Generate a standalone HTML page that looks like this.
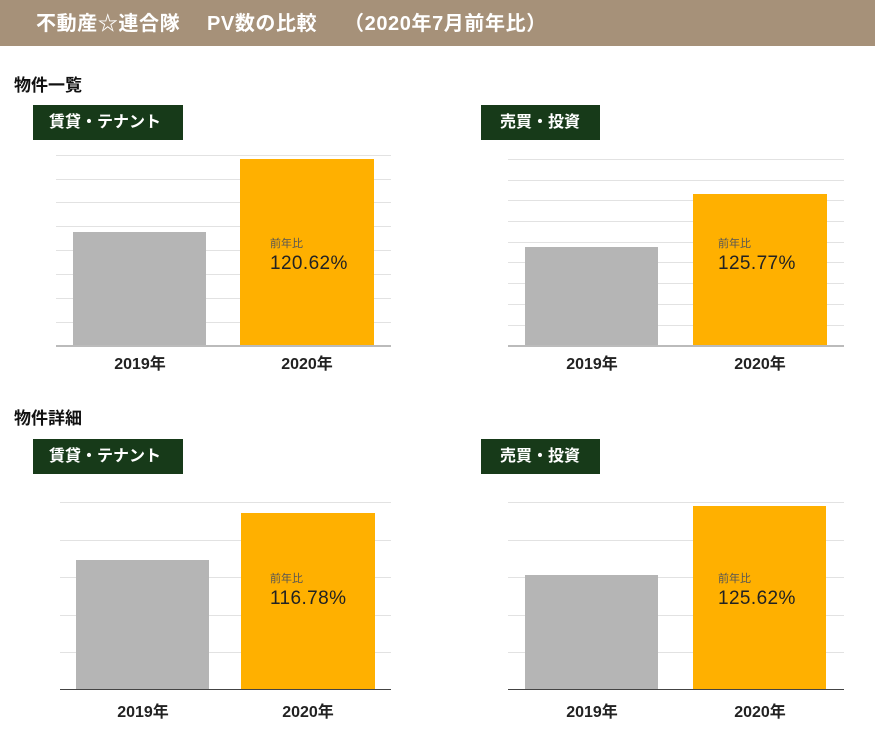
<!DOCTYPE html>
<html><head><meta charset="utf-8"><style>
body{margin:0;width:875px;height:731px;background:#fff;position:relative;overflow:hidden;font-family:"Liberation Sans","Noto Sans CJK JP",sans-serif}
.a{position:absolute}
.hdr{left:0;top:0;width:875px;height:46px;background:#a69179;color:#fff;font-weight:bold;font-size:20px;line-height:48px;padding-left:36px;box-sizing:border-box;white-space:pre;letter-spacing:0.6px}
.sec{font-weight:bold;font-size:17px;color:#111}
.tag{background:#173a19;color:#fff;font-weight:bold;font-size:16px;line-height:35px;height:35px;padding-left:16px;box-sizing:border-box}
.g{height:1px;background:#e2e2e2}
.b{height:1px;background:#444}
.gray{background:#b5b5b5}
.or{background:#ffb000}
.sm{font-size:11px;color:#555}
.val{font-size:19px;color:#222;letter-spacing:0.4px}
.xl{font-weight:bold;font-size:16px;color:#222;text-align:center;width:134px}
</style></head><body>
<div class="a hdr">不動産☆連合隊　 PV数の比較　 （2020年7月前年比）</div>
<div class="a sec" style="left:14px;top:71px">物件一覧</div>
<div class="a sec" style="left:14px;top:404px">物件詳細</div>
<div class="a tag" style="left:33px;top:105px;width:150px">賃貸・テナント</div>
<div class="a tag" style="left:481px;top:105px;width:119px;padding-left:19px">売買・投資</div>
<div class="a tag" style="left:33px;top:439px;width:150px">賃貸・テナント</div>
<div class="a tag" style="left:481px;top:439px;width:119px;padding-left:19px">売買・投資</div>

<!-- chart 1 -->
<div class="a g" style="left:56px;width:335px;top:155px"></div>
<div class="a g" style="left:56px;width:335px;top:179px"></div>
<div class="a g" style="left:56px;width:335px;top:202px"></div>
<div class="a g" style="left:56px;width:335px;top:226px"></div>
<div class="a g" style="left:56px;width:335px;top:250px"></div>
<div class="a g" style="left:56px;width:335px;top:274px"></div>
<div class="a g" style="left:56px;width:335px;top:298px"></div>
<div class="a g" style="left:56px;width:335px;top:322px"></div>
<div class="a gray" style="left:73px;width:133px;top:232px;height:114px"></div>
<div class="a or" style="left:240px;width:134px;top:159px;height:187px"></div>
<div class="a b" style="left:56px;width:335px;top:345px;background:#bbb;height:2px"></div>
<div class="a sm" style="left:270px;top:235px">前年比</div>
<div class="a val" style="left:270px;top:253px">120.62%</div>
<div class="a xl" style="left:73px;top:350px">2019年</div>
<div class="a xl" style="left:240px;top:350px">2020年</div>

<!-- chart 2 -->
<div class="a g" style="left:508px;width:336px;top:159px"></div>
<div class="a g" style="left:508px;width:336px;top:180px"></div>
<div class="a g" style="left:508px;width:336px;top:200px"></div>
<div class="a g" style="left:508px;width:336px;top:221px"></div>
<div class="a g" style="left:508px;width:336px;top:242px"></div>
<div class="a g" style="left:508px;width:336px;top:262px"></div>
<div class="a g" style="left:508px;width:336px;top:283px"></div>
<div class="a g" style="left:508px;width:336px;top:304px"></div>
<div class="a g" style="left:508px;width:336px;top:325px"></div>
<div class="a gray" style="left:525px;width:133px;top:247px;height:99px"></div>
<div class="a or" style="left:693px;width:134px;top:194px;height:152px"></div>
<div class="a b" style="left:508px;width:336px;top:345px;background:#bbb;height:2px"></div>
<div class="a sm" style="left:718px;top:235px">前年比</div>
<div class="a val" style="left:718px;top:253px">125.77%</div>
<div class="a xl" style="left:525px;top:350px">2019年</div>
<div class="a xl" style="left:693px;top:350px">2020年</div>

<!-- chart 3 -->
<div class="a g" style="left:60px;width:331px;top:502px"></div>
<div class="a g" style="left:60px;width:331px;top:540px"></div>
<div class="a g" style="left:60px;width:331px;top:577px"></div>
<div class="a g" style="left:60px;width:331px;top:615px"></div>
<div class="a g" style="left:60px;width:331px;top:652px"></div>
<div class="a gray" style="left:76px;width:133px;top:560px;height:129px"></div>
<div class="a or" style="left:241px;width:134px;top:513px;height:176px"></div>
<div class="a b" style="left:60px;width:331px;top:689px"></div>
<div class="a sm" style="left:270px;top:570px">前年比</div>
<div class="a val" style="left:270px;top:588px">116.78%</div>
<div class="a xl" style="left:76px;top:698px">2019年</div>
<div class="a xl" style="left:241px;top:698px">2020年</div>

<!-- chart 4 -->
<div class="a g" style="left:508px;width:336px;top:502px"></div>
<div class="a g" style="left:508px;width:336px;top:540px"></div>
<div class="a g" style="left:508px;width:336px;top:577px"></div>
<div class="a g" style="left:508px;width:336px;top:615px"></div>
<div class="a g" style="left:508px;width:336px;top:652px"></div>
<div class="a gray" style="left:525px;width:133px;top:575px;height:114px"></div>
<div class="a or" style="left:693px;width:133px;top:506px;height:183px"></div>
<div class="a b" style="left:508px;width:336px;top:689px"></div>
<div class="a sm" style="left:718px;top:570px">前年比</div>
<div class="a val" style="left:718px;top:588px">125.62%</div>
<div class="a xl" style="left:525px;top:698px">2019年</div>
<div class="a xl" style="left:693px;top:698px">2020年</div>
</body></html>
